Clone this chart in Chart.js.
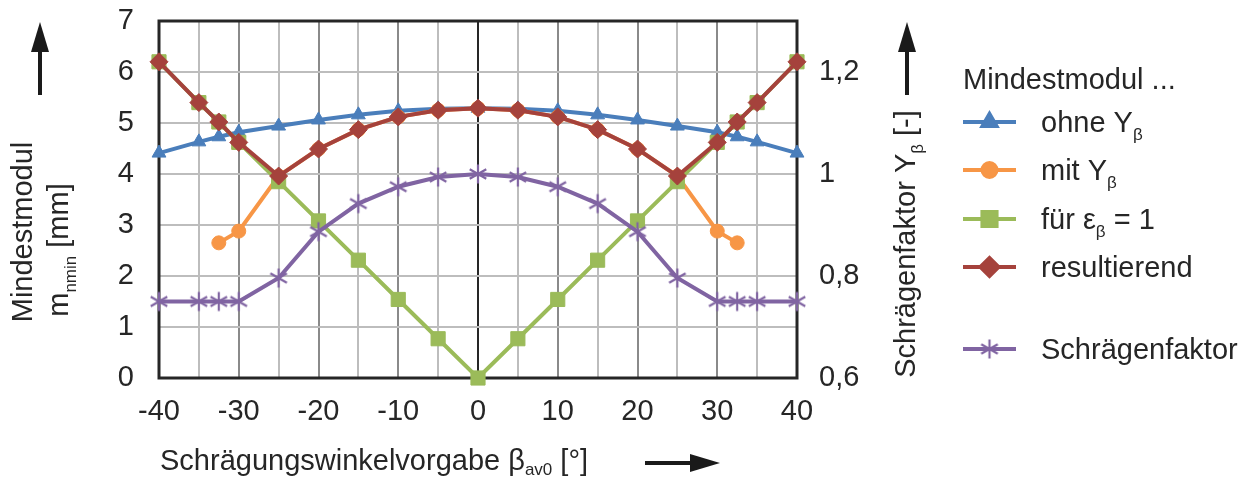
<!DOCTYPE html>
<html>
<head>
<meta charset="utf-8">
<script src="https://cdn.jsdelivr.net/npm/chart.js@4"></script>
<style>
  html, body { margin: 0; padding: 0; background: #fff; }
  #wrap { width: 1249px; height: 477px; }
</style>
</head>
<body>
<div id="wrap"><canvas id="myGraph" width="1249" height="477"></canvas></div>
<script>
// Schrägungswinkel in Grad
const angles = [-40, -35, -32.5, -30, -25, -20, -15, -10, -5, 0, 5, 10, 15, 20, 25, 30, 32.5, 35, 40];

// Mindestmodul in mm
const ohneY = [4.41, 4.63, 4.73, 4.82, 4.94, 5.06, 5.16, 5.24, 5.28, 5.29, 5.28, 5.24, 5.16, 5.06, 4.94, 4.82, 4.73, 4.63, 4.41];
const mitY = [null, null, 2.65, 2.88, 3.96, 4.49, 4.87, 5.12, 5.25, 5.29, 5.25, 5.12, 4.87, 4.49, 3.96, 2.88, 2.65, null, null];
const fuerEps = [6.2, 5.4, 5.02, 4.62, 3.85, 3.08, 2.31, 1.54, 0.77, 0, 0.77, 1.54, 2.31, 3.08, 3.85, 4.62, 5.02, 5.4, 6.2];
const resultierend = [6.2, 5.4, 5.02, 4.62, 3.96, 4.49, 4.87, 5.12, 5.25, 5.29, 5.25, 5.12, 4.87, 4.49, 3.96, 4.62, 5.02, 5.4, 6.2];

// Schrägenfaktor Y_beta (rechte Achse)
const schraegenfaktor = [0.75, 0.75, 0.75, 0.75, 0.796, 0.887, 0.942, 0.975, 0.994, 1.0, 0.994, 0.975, 0.942, 0.887, 0.796, 0.75, 0.75, 0.75, 0.75];

// Achsenteilung
const xGridTicks = [-40, -35, -30, -25, -20, -15, -10, -5, 0, 5, 10, 15, 20, 25, 30, 35, 40];
const xTickLabels = [-40, -30, -20, -10, 0, 10, 20, 30, 40];
const leftTicks = [0, 1, 2, 3, 4, 5, 6, 7];
const rightTicks = [0.6, 0.8, 1, 1.2];

const FONT = '"Liberation Sans", Arial, sans-serif';
const TXT = "#262626";
const PURPLE = "#8064A2";

const pts = arr => arr.map((v, i) => ({ x: angles[i], y: v }));

Chart.defaults.font.family = FONT;
Chart.defaults.font.size = 29;
Chart.defaults.color = TXT;

// Sternmarker wie in Excel (X + senkrechter Strich)
function makeStar(size, color) {
  const c = document.createElement("canvas");
  c.width = size; c.height = size;
  const g = c.getContext("2d");
  const m = size / 2, r = size / 2 - 1.5, d = r * 0.87;
  g.strokeStyle = color;
  g.lineWidth = 2.2;
  g.beginPath();
  g.moveTo(m, m - r); g.lineTo(m, m + r);
  g.moveTo(m - d, m - r / 2); g.lineTo(m + d, m + r / 2);
  g.moveTo(m - d, m + r / 2); g.lineTo(m + d, m - r / 2);
  g.stroke();
  return c;
}
const starImg = makeStar(22, PURPLE);

// Legende (eigene, wegen Indizes)
const legendItems = [
  { y: 122, color: "#4A7EBB", style: "triangle", r: 8, parts: [["ohne Y"], ["β", 1]] },
  { y: 170, color: "#F79646", style: "circle", r: 7, parts: [["mit Y"], ["β", 1]] },
  { y: 219, color: "#9BBB59", style: "rect", r: 10, parts: [["für ε"], ["β", 1], [" = 1"]] },
  { y: 267, color: "#A5423C", style: "rectRot", r: 9, parts: [["resultierend"]] },
  { y: 349, color: PURPLE, style: "star", r: 9, parts: [["Schrägenfaktor"]] }
];

function richWidth(ctx, parts) {
  let w = 0;
  parts.forEach(p => {
    ctx.font = (p[1] ? "17px " : "29px ") + FONT;
    w += ctx.measureText(p[0]).width;
  });
  return w;
}

function drawRich(ctx, parts, x, y, sub = 8) {
  ctx.textBaseline = "alphabetic";
  ctx.textAlign = "left";
  parts.forEach(p => {
    ctx.font = (p[1] ? "17px " : "29px ") + FONT;
    ctx.fillText(p[0], x, p[1] ? y + sub : y);
    x += ctx.measureText(p[0]).width;
  });
}

function arrow(ctx, x1, y1, x2, y2) {
  const a = Math.atan2(y2 - y1, x2 - x1);
  const hl = 30, hw = 9;
  ctx.save();
  ctx.strokeStyle = "#1a1a1a";
  ctx.fillStyle = "#1a1a1a";
  ctx.lineWidth = 4;
  ctx.beginPath();
  ctx.moveTo(x1, y1);
  ctx.lineTo(x2 - Math.cos(a) * hl, y2 - Math.sin(a) * hl);
  ctx.stroke();
  ctx.beginPath();
  ctx.moveTo(x2, y2);
  ctx.lineTo(x2 - Math.cos(a) * hl - Math.sin(a) * hw, y2 - Math.sin(a) * hl + Math.cos(a) * hw);
  ctx.lineTo(x2 - Math.cos(a) * hl + Math.sin(a) * hw, y2 - Math.sin(a) * hl - Math.cos(a) * hw);
  ctx.closePath();
  ctx.fill();
  ctx.restore();
}

const framePlugin = {
  id: "frame",
  beforeDatasetsDraw(chart) {
    const a = chart.chartArea, ctx = chart.ctx;
    ctx.save();
    ctx.strokeStyle = "#262626";
    ctx.lineWidth = 3;
    ctx.strokeRect(a.left, a.top, a.right - a.left, a.bottom - a.top);
    ctx.restore();
  },
  afterDraw(chart) {
    const ctx = chart.ctx;
    ctx.save();
    ctx.fillStyle = TXT;

    // linke Achsentitel
    let parts = [["Mindestmodul"]];
    ctx.save();
    ctx.translate(32, 232);
    ctx.rotate(-Math.PI / 2);
    drawRich(ctx, parts, -richWidth(ctx, parts) / 2, 0);
    ctx.restore();

    parts = [["m"], ["nmin", 1], [" [mm]"]];
    ctx.save();
    ctx.translate(68, 250);
    ctx.rotate(-Math.PI / 2);
    drawRich(ctx, parts, -richWidth(ctx, parts) / 2, 0);
    ctx.restore();

    // rechte Achsentitel
    parts = [["Schrägenfaktor Y"], ["β", 1], [" [-]"]];
    ctx.save();
    ctx.translate(915, 244);
    ctx.rotate(-Math.PI / 2);
    drawRich(ctx, parts, -richWidth(ctx, parts) / 2, 0);
    ctx.restore();

    // x-Titel
    drawRich(ctx, [["Schrägungswinkelvorgabe β"], ["av0", 1], [" [°]"]], 160, 470, 5);

    arrow(ctx, 40, 95, 40, 22);
    arrow(ctx, 907, 95, 907, 22);
    arrow(ctx, 645, 463, 720, 463);

    // Legende
    ctx.font = "29px " + FONT;
    ctx.textBaseline = "middle";
    ctx.fillText("Mindestmodul ...", 963, 81);
    legendItems.forEach(it => {
      ctx.save();
      ctx.strokeStyle = it.color;
      ctx.lineWidth = 4;
      ctx.beginPath();
      ctx.moveTo(963, it.y);
      ctx.lineTo(1016, it.y);
      ctx.stroke();
      if (it.style === "star") {
        ctx.drawImage(starImg, 989.5 - 11, it.y - 11);
      } else {
        ctx.fillStyle = it.color;
        Chart.helpers.drawPoint(ctx, { pointStyle: it.style, radius: it.r, rotation: 0, borderWidth: 1 }, 989.5, it.y);
        ctx.fill();
      }
      ctx.restore();
      ctx.fillStyle = TXT;
      drawRich(ctx, it.parts, 1041, it.y + 10);
    });
    ctx.restore();
  }
};

function ds(label, data, color, style, r, axis, order) {
  return {
    label, data: pts(data), yAxisID: axis, order,
    borderColor: color, backgroundColor: color,
    pointBorderColor: color, pointBackgroundColor: color,
    borderWidth: 4, pointStyle: style, pointRadius: r, pointHoverRadius: r,
    pointBorderWidth: 1,
    tension: 0, clip: false, spanGaps: false
  };
}

// feste Achsenbreiten, ohne automatischen Randausgleich
const fixSize = (w, h) => s => {
  if (w) s.width = w;
  if (h) s.height = h;
  s.paddingTop = 0; s.paddingBottom = 0; s.paddingLeft = 0; s.paddingRight = 0;
};

const canvas = document.querySelector("#myGraph").getContext("2d");
let chart = new Chart(canvas, {
  type: "line",
  data: {
    datasets: [
      ds("ohne Yβ", ohneY, "#4A7EBB", "triangle", 8, "y", 4),
      ds("mit Yβ", mitY, "#F79646", "circle", 7, "y", 3),
      ds("für εβ = 1", fuerEps, "#9BBB59", "rect", 10, "y", 2),
      ds("resultierend", resultierend, "#A5423C", "rectRot", 9, "y", 0),
      ds("Schrägenfaktor", schraegenfaktor, PURPLE, starImg, 11, "y1", 1)
    ]
  },
  options: {
    responsive: false,
    animation: false,
    maintainAspectRatio: false,
    layout: { padding: { top: 21, left: 0, right: 0, bottom: 0 } },
    plugins: {
      legend: { display: false },
      tooltip: { enabled: false }
    },
    scales: {
      x: {
        type: "linear",
        min: -40, max: 40,
        afterFit: fixSize(0, 99),
        afterBuildTicks: s => { s.ticks = xGridTicks.map(v => ({ value: v })); },
        grid: {
          drawTicks: false,
          lineWidth: 2,
          color: c => {
            const v = c.tick ? c.tick.value : 1;
            if (v === 0) return "#262626";
            if (v % 10 === 0) return "#8a8a8a";
            return "#bdbdbd";
          }
        },
        border: { display: false },
        ticks: {
          padding: 17,
          maxRotation: 0,
          autoSkip: false,
          callback: v => xTickLabels.includes(v) ? String(v) : ""
        }
      },
      y: {
        position: "left",
        min: 0, max: 7,
        afterFit: fixSize(159, 0),
        afterBuildTicks: s => { s.ticks = leftTicks.map(v => ({ value: v })); },
        grid: { drawTicks: false, lineWidth: 2, color: "#bdbdbd" },
        border: { display: false },
        ticks: { padding: 25 }
      },
      y1: {
        position: "right",
        min: 0.6, max: 1.3,
        afterFit: fixSize(452, 0),
        afterBuildTicks: s => { s.ticks = rightTicks.map(v => ({ value: v })); },
        grid: { display: false, drawTicks: false },
        border: { display: false },
        ticks: {
          padding: 22,
          callback: v => String(Math.round(v * 10) / 10).replace(".", ",")
        }
      }
    }
  },
  plugins: [framePlugin]
});
</script>
</body>
</html>
